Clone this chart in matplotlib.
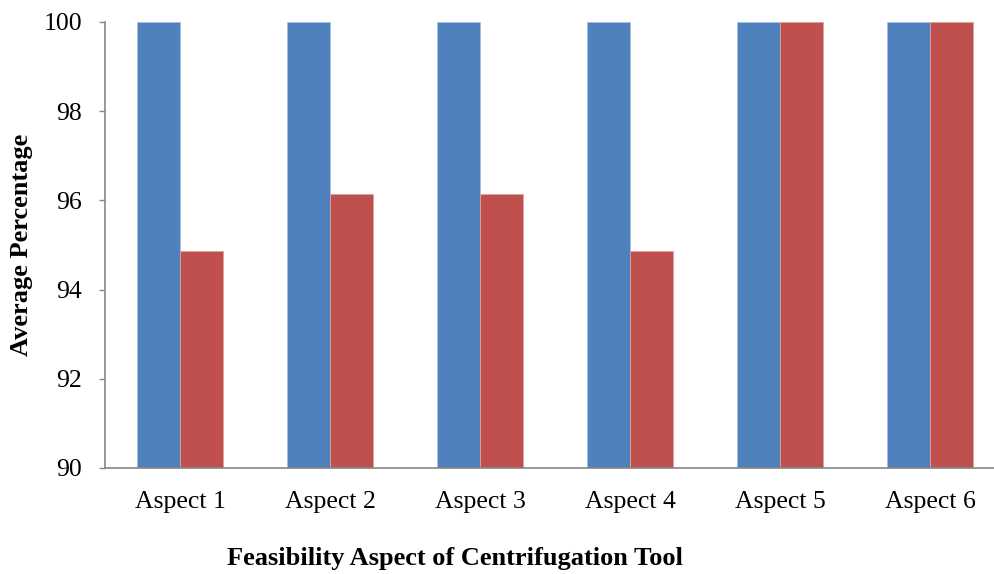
import matplotlib.pyplot as plt
import numpy as np

plt.rcParams['font.family'] = ['Liberation Serif', 'DejaVu Serif']

aspects = ["Aspect 1", "Aspect 2", "Aspect 3", "Aspect 4", "Aspect 5", "Aspect 6"]
series_a = [100, 100, 100, 100, 100, 100]
series_b = [94.87, 96.15, 96.15, 94.87, 100, 100]

fig = plt.figure(figsize=(9.95, 5.74), dpi=100)
# axis runs past the right edge like in the original
ax = fig.add_axes([105 / 995, 1 - 468 / 574, 900 / 995, 446 / 574])

x = np.arange(len(aspects))
w = 0.2867
ax.bar(x - w / 2, series_a, w, bottom=0, color="#4F81BD", edgecolor="#A7C0E0", linewidth=0.6)
ax.bar(x + w / 2, series_b, w, bottom=0, color="#C0504D", edgecolor="#E0A09E", linewidth=0.6)

ax.set_ylim(90, 100)
ax.set_xlim(-0.5, 5.5)
ax.set_yticks([90, 92, 94, 96, 98, 100])
ax.set_xticks(x)
ax.set_xticklabels(aspects)
ax.tick_params(axis="x", length=0, pad=16.5, labelsize=18.5)
ax.tick_params(axis="y", length=4.3, width=1, color="#868686", pad=12, labelsize=18.5)

for s in ["top", "right"]:
    ax.spines[s].set_visible(False)
for s in ["left", "bottom"]:
    ax.spines[s].set_color("#868686")
    ax.spines[s].set_linewidth(1.2)

fig.text(22 / 995, 1 - 245 / 574, "Average Percentage", rotation=90, fontsize=19,
         fontweight="bold", ha="center", va="center")
fig.text(455 / 995, 1 - 558 / 574, "Feasibility Aspect of Centrifugation Tool", fontsize=19,
         fontweight="bold", ha="center", va="center")

fig.savefig("out.png", dpi=100)
